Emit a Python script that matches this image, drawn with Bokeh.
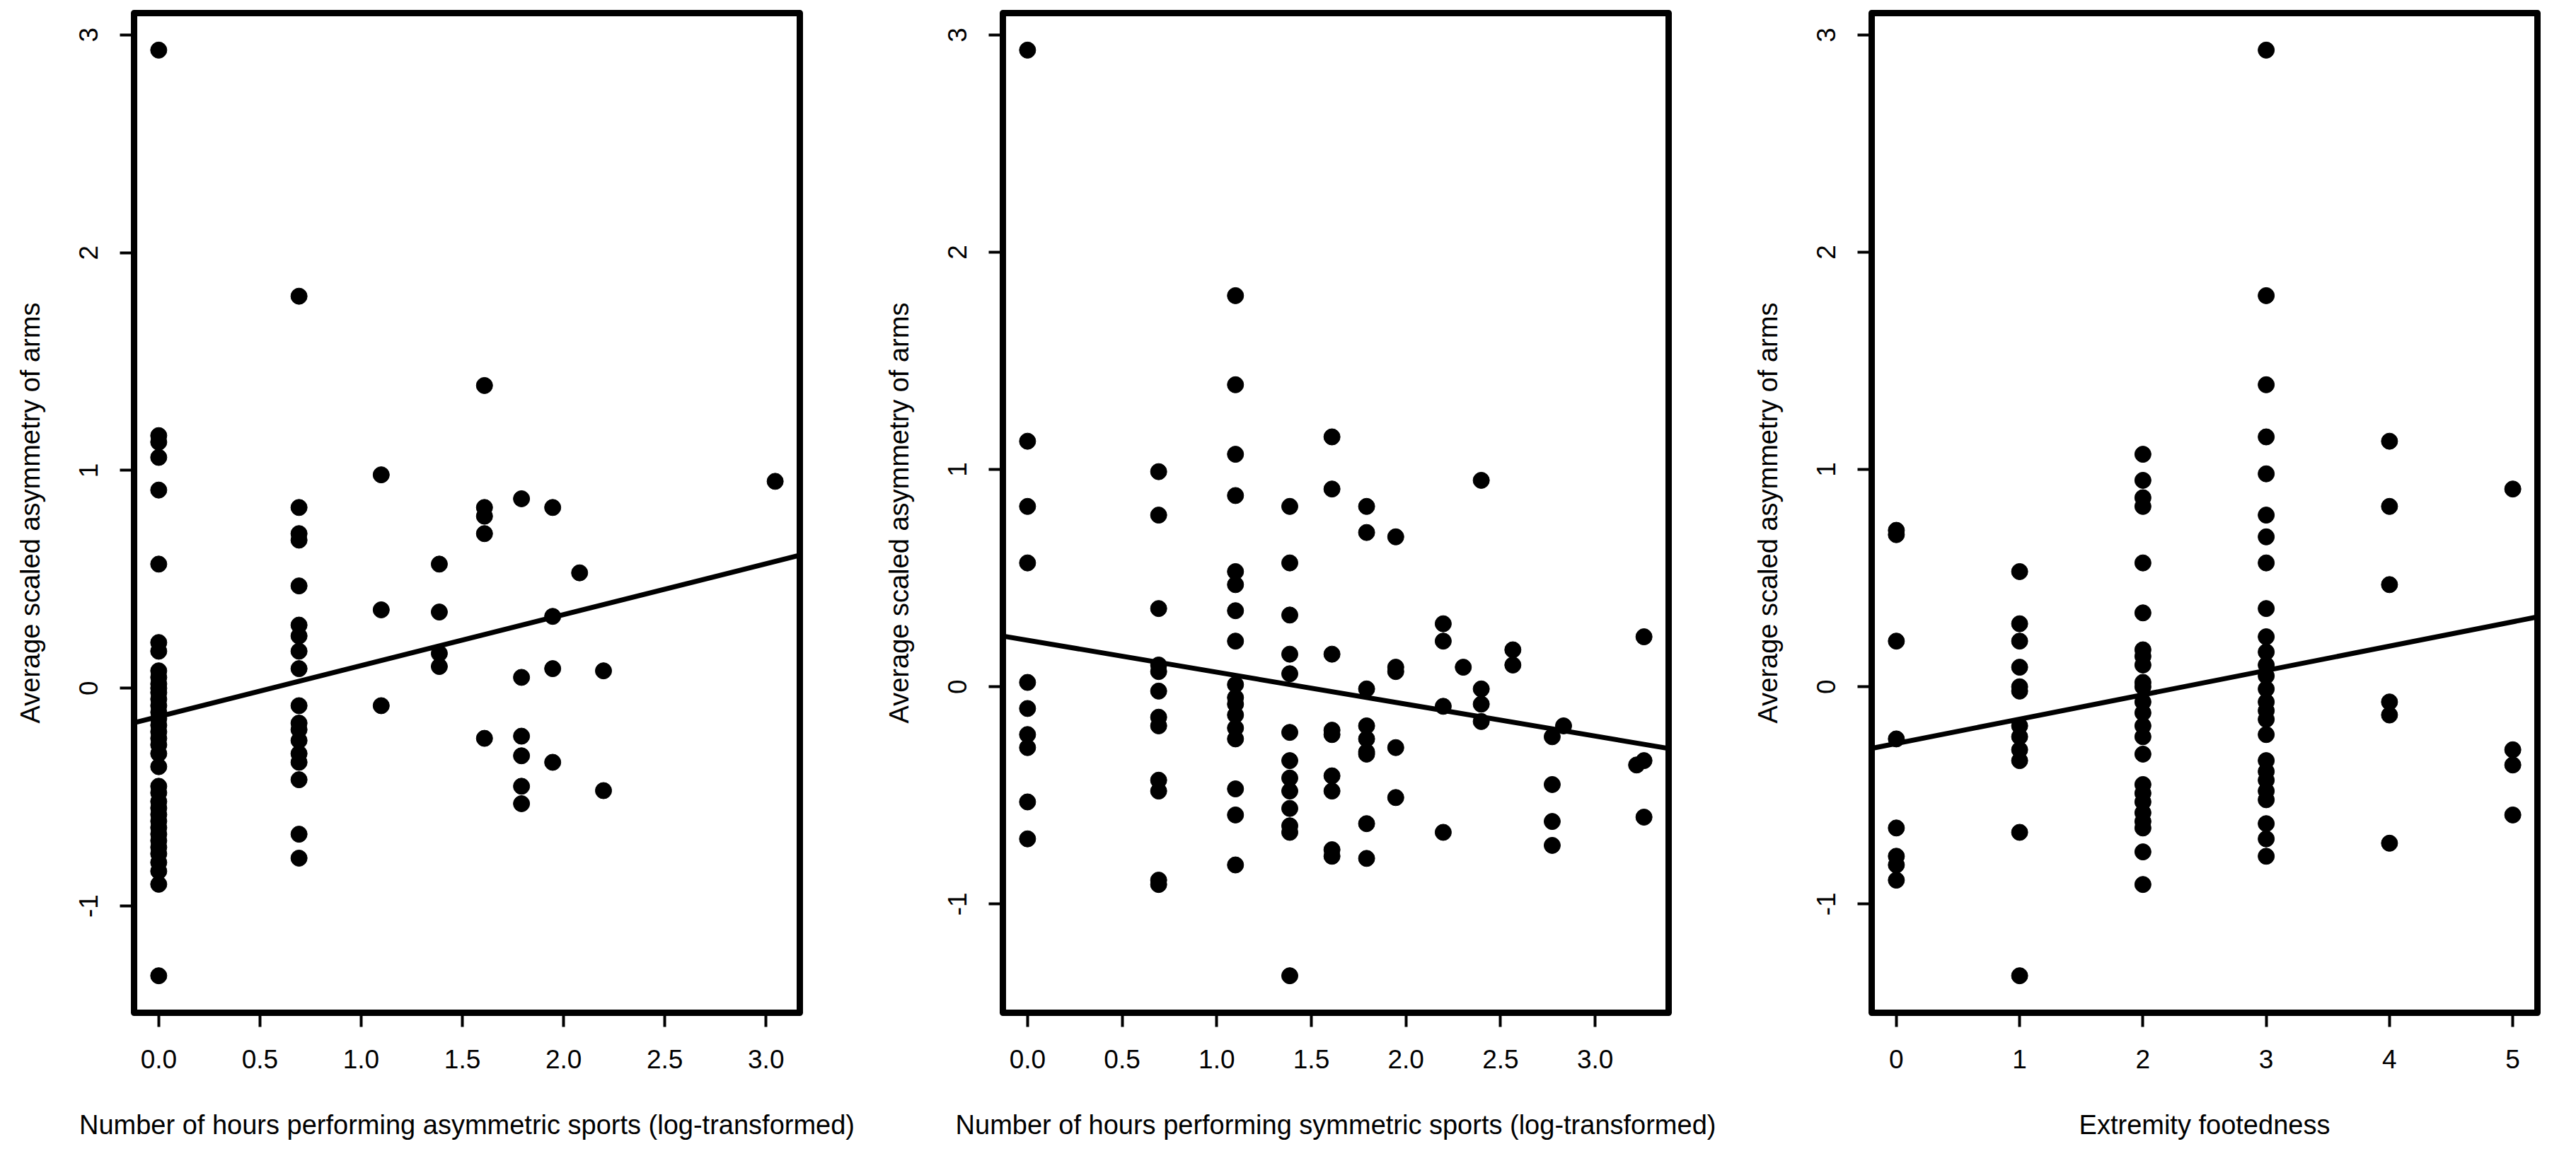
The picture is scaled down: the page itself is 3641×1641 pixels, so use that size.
from bokeh.plotting import figure
from bokeh.layouts import row
from bokeh.models import Range1d, FixedTicker, Slope
from bokeh.embed import file_html
from bokeh.resources import INLINE

# ---------------- data ----------------
y_label = "Average scaled asymmetry of arms"

# Panel 1: asymmetric sports (log-transformed hours)
asym_x = ([0.0] * 38 + [0.693] * 18 + [1.099] * 3 + [1.386] * 4 + [1.609] * 5
          + [1.792] * 6 + [1.946] * 4 + [2.079] * 1 + [2.197] * 2 + [3.045] * 1)
asym_y = [2.93, 1.16, 1.13, 1.06, 0.91, 0.57, 0.21, 0.17, 0.08, 0.05, 0.02, 0.00,
          -0.02, -0.05, -0.08, -0.11, -0.14, -0.17, -0.20, -0.23, -0.26, -0.30,
          -0.36, -0.45, -0.48, -0.52, -0.55, -0.58, -0.61, -0.64, -0.67, -0.70,
          -0.73, -0.76, -0.80, -0.84, -0.90, -1.32,
          1.80, 0.83, 0.71, 0.68, 0.47, 0.29, 0.24, 0.17, 0.09, -0.08, -0.16, -0.19,
          -0.24, -0.30, -0.34, -0.42, -0.67, -0.78,
          0.98, 0.36, -0.08,
          0.57, 0.35, 0.16, 0.10,
          1.39, 0.83, 0.79, 0.71, -0.23,
          0.87, 0.05, -0.22, -0.31, -0.45, -0.53,
          0.83, 0.33, 0.09, -0.34,
          0.53,
          0.08, -0.47,
          0.95]
asym_fit = (0.234, -0.130)          # slope, intercept of drawn line

# Panel 2: symmetric sports (log-transformed hours)
sym_x = ([0.0] * 10 + [0.693] * 12 + [1.099] * 17 + [1.386] * 13 + [1.609] * 9
         + [1.792] * 9 + [1.946] * 5 + [2.197] * 4 + [2.303] * 1 + [2.398] * 4
         + [2.565] * 2 + [2.773] * 4 + [2.833] * 1 + [3.219] * 1 + [3.258] * 3)
sym_y = [2.93, 1.13, 0.83, 0.57, 0.02, -0.10, -0.22, -0.28, -0.53, -0.70,
         0.99, 0.79, 0.36, 0.10, 0.07, -0.02, -0.14, -0.18, -0.43, -0.48, -0.89, -0.91,
         1.80, 1.39, 1.07, 0.88, 0.53, 0.47, 0.35, 0.21, 0.01, -0.05, -0.08, -0.13,
         -0.19, -0.24, -0.47, -0.59, -0.82,
         0.83, 0.57, 0.33, 0.15, 0.06, -0.21, -0.34, -0.42, -0.48, -0.56, -0.64, -0.67, -1.33,
         1.15, 0.91, 0.15, -0.20, -0.22, -0.41, -0.48, -0.75, -0.78,
         0.83, 0.71, -0.01, -0.18, -0.24, -0.30, -0.31, -0.63, -0.79,
         0.69, 0.09, 0.07, -0.28, -0.51,
         0.29, 0.21, -0.09, -0.67,
         0.09,
         0.95, -0.01, -0.08, -0.16,
         0.17, 0.10,
         -0.23, -0.45, -0.62, -0.73,
         -0.18,
         -0.36,
         0.23, -0.34, -0.60]
sym_fit = (-0.147, 0.214)

# Panel 3: extremity footedness
foot_x = [0] * 8 + [1] * 12 + [2] * 24 + [3] * 26 + [4] * 6 + [5] * 4
foot_y = [0.72, 0.70, 0.21, -0.24, -0.65, -0.78, -0.82, -0.89,
          0.53, 0.29, 0.21, 0.09, 0.00, -0.02, -0.18, -0.23, -0.29, -0.34, -0.67, -1.33,
          1.07, 0.95, 0.87, 0.83, 0.57, 0.34, 0.17, 0.14, 0.10, 0.02, 0.00, -0.07,
          -0.12, -0.18, -0.23, -0.31, -0.45, -0.49, -0.53, -0.58, -0.62, -0.65, -0.76, -0.91,
          2.93, 1.80, 1.39, 1.15, 0.98, 0.79, 0.69, 0.57, 0.36, 0.23, 0.16, 0.10, 0.05,
          -0.01, -0.07, -0.11, -0.15, -0.22, -0.34, -0.39, -0.43, -0.48, -0.52, -0.63, -0.70, -0.78,
          1.13, 0.83, 0.47, -0.07, -0.13, -0.72,
          0.91, -0.29, -0.36, -0.59]
foot_fit = (0.112, -0.261)

y_ticks = [-1, 0, 1, 2, 3]
y_tick_labels = ["-1", "0", "1", "2", "3"]
x_ticks_hours = [0.0, 0.5, 1.0, 1.5, 2.0, 2.5, 3.0]
x_tick_labels_hours = ["0.0", "0.5", "1.0", "1.5", "2.0", "2.5", "3.0"]
x_ticks_foot = [0, 1, 2, 3, 4, 5]
x_tick_labels_foot = ["0", "1", "2", "3", "4", "5"]

FONT = "Liberation Sans"


def pad_range(vals, frac=0.04):
    lo, hi = min(vals), max(vals)
    d = (hi - lo) * frac
    return lo - d, hi + d


def panel(xs, ys, fit, xticks, xlabels, xlabel, width, right):
    x0, x1 = pad_range(xs)
    y0, y1 = pad_range(ys)
    p = figure(width=width, height=1625, output_backend="svg", toolbar_location=None,
               x_range=Range1d(x0, x1), y_range=Range1d(y0, y1),
               min_border_left=189, min_border_right=right,
               min_border_top=18, min_border_bottom=194)
    p.grid.visible = False
    p.background_fill_color = "white"
    p.border_fill_color = "white"
    p.outline_line_color = "black"
    p.outline_line_width = 9
    p.outline_line_join = "round"

    p.scatter(xs, ys, size=23, color="black", line_color="black")
    p.add_layout(Slope(gradient=fit[0], y_intercept=fit[1],
                       line_color="black", line_width=7))

    xa = p.xaxis[0]
    ya = p.yaxis[0]
    xa.ticker = FixedTicker(ticks=xticks)
    xa.major_label_overrides = {t: l for t, l in zip(xticks, xlabels)}
    ya.ticker = FixedTicker(ticks=y_ticks)
    ya.major_label_overrides = {t: l for t, l in zip(y_ticks, y_tick_labels)}
    ya.major_label_orientation = "vertical"
    xa.axis_label = xlabel
    ya.axis_label = y_label
    for ax in (xa, ya):
        ax.axis_line_color = None
        ax.major_tick_in = 0
        ax.major_tick_out = 20
        ax.major_tick_line_width = 4
        ax.major_tick_line_color = "black"
        ax.minor_tick_line_color = None
        ax.major_label_text_font = FONT
        ax.major_label_text_font_size = "37px"
        ax.major_label_text_color = "black"
        ax.axis_label_text_font = FONT
        ax.axis_label_text_font_size = "38px"
        ax.axis_label_text_font_style = "normal"
        ax.axis_label_text_color = "black"
    xa.major_label_standoff = 32
    xa.axis_label_standoff = 56
    ya.major_label_standoff = 31
    ya.axis_label_standoff = 46
    return p


p1 = panel(asym_x, asym_y, asym_fit, x_ticks_hours, x_tick_labels_hours,
           "Number of hours performing asymmetric sports (log-transformed)", 1228, 98)
p2 = panel(sym_x, sym_y, sym_fit, x_ticks_hours, x_tick_labels_hours,
           "Number of hours performing symmetric sports (log-transformed)", 1228, 98)
p3 = panel(foot_x, foot_y, foot_fit, x_ticks_foot, x_tick_labels_foot,
           "Extremity footedness", 1169, 39)

layout = row(p1, p2, p3)
open("out.html", "w").write(file_html(layout, INLINE))
